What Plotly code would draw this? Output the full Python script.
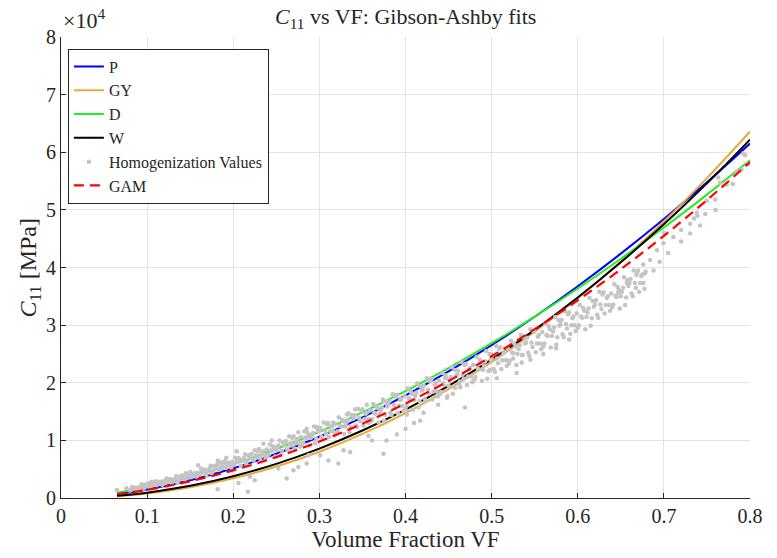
import plotly.graph_objects as go

# ---------------- data (C11 in units of 1e4 MPa) ----------------
vf_fit = [0.065, 0.10, 0.15, 0.20, 0.25, 0.30, 0.35, 0.40, 0.45, 0.50,
          0.55, 0.60, 0.65, 0.70, 0.75, 0.80]
c_P = [0.069, 0.149, 0.307, 0.515, 0.767, 1.063, 1.400, 1.779, 2.196, 2.652,
       3.145, 3.675, 4.241, 4.843, 5.479, 6.150]
c_GY = [0.032, 0.079, 0.186, 0.341, 0.546, 0.803, 1.112, 1.474, 1.889, 2.360,
        2.885, 3.466, 4.104, 4.799, 5.551, 6.360]
c_D = [0.091, 0.186, 0.364, 0.587, 0.850, 1.150, 1.486, 1.855, 2.254, 2.686,
       3.146, 3.635, 4.152, 4.695, 5.265, 5.860]
c_W = [0.039, 0.093, 0.211, 0.378, 0.593, 0.858, 1.171, 1.534, 1.945, 2.407,
       2.918, 3.479, 4.090, 4.750, 5.460, 6.220]
c_GAM = [0.070, 0.140, 0.290, 0.480, 0.710, 0.980, 1.290, 1.640, 2.030, 2.460,
         2.930, 3.430, 3.970, 4.550, 5.170, 5.830]

# homogenization samples, part A
hom_vf_a = [
    0.080, 0.0825, 0.085, 0.0875, 0.090, 0.0925, 0.095, 0.0975,
    0.100, 0.1025, 0.105, 0.1075, 0.110, 0.1125, 0.115, 0.1175,
    0.120, 0.1225, 0.125, 0.1275, 0.130, 0.1325, 0.135, 0.1375,
    0.140, 0.1425, 0.145, 0.1475, 0.150, 0.1525, 0.155, 0.1575,
    0.160, 0.1625, 0.165, 0.1675, 0.170, 0.1725, 0.175, 0.1775,
    0.180, 0.1825, 0.185, 0.1875, 0.190, 0.1925, 0.195, 0.1975,
    0.200, 0.2025, 0.205, 0.2075, 0.210, 0.2125, 0.215, 0.2175,
    0.220, 0.2225, 0.225, 0.2275, 0.230, 0.2325, 0.235, 0.2375,
    0.240, 0.2425, 0.245, 0.2475, 0.250, 0.2525, 0.255, 0.2575,
    0.260, 0.2625, 0.265, 0.2675, 0.270, 0.2725, 0.275, 0.2775,
    0.280, 0.2825, 0.285, 0.2875, 0.290, 0.2925, 0.295, 0.2975,
    0.300, 0.3025, 0.305, 0.3075, 0.310, 0.3125, 0.315, 0.3175,
    0.320, 0.3225, 0.325, 0.3275, 0.330, 0.3325, 0.335, 0.3375,
    0.340, 0.3425, 0.345, 0.3475, 0.350, 0.3525, 0.355, 0.3575,
    0.360, 0.3625, 0.365, 0.3675, 0.370, 0.3725, 0.375, 0.3775,
    0.380, 0.3825, 0.385, 0.3875, 0.390, 0.3925, 0.395, 0.3975,
    0.400, 0.4025, 0.405, 0.4075, 0.410, 0.4125, 0.415, 0.4175,
    0.420, 0.4225, 0.425, 0.4275, 0.430, 0.4325, 0.435, 0.4375,
    0.440, 0.4425, 0.445, 0.4475, 0.450, 0.4525, 0.455, 0.4575,
    0.460, 0.4625, 0.465, 0.4675, 0.470, 0.4725, 0.475, 0.4775,
    0.480, 0.4825, 0.485, 0.4875, 0.490, 0.4925, 0.495, 0.4975,
    0.500, 0.5025, 0.505, 0.5075, 0.510, 0.5125, 0.515, 0.5175,
    0.520, 0.5225, 0.525, 0.5275, 0.530, 0.5325, 0.535, 0.5375,
    0.540, 0.5425, 0.545, 0.5475, 0.550, 0.5525, 0.555, 0.5575,
    0.560, 0.5625, 0.565, 0.5675, 0.570, 0.5725, 0.575, 0.5775,
    0.580, 0.5825, 0.585, 0.5875, 0.590, 0.5925, 0.595, 0.5975,
    0.600, 0.6025, 0.605, 0.6075, 0.610, 0.6125, 0.615, 0.6175,
    0.620, 0.6225, 0.625, 0.6275, 0.630, 0.6325, 0.635, 0.6375,
    0.640, 0.6425, 0.645, 0.6475, 0.650, 0.6525, 0.655, 0.6575,
    0.660, 0.6625, 0.665, 0.6675, 0.670, 0.6725, 0.675, 0.6775,
    # sparse upper end
    0.684, 0.692, 0.6995, 0.711, 0.7305, 0.7305, 0.742, 0.748, 0.750, 0.7596,
    0.7654, 0.773, 0.785, 0.7944, 0.688, 0.695, 0.705, 0.720, 0.678, 0.668,
    0.657, 0.676, 0.700, 0.738, 0.760, 0.780, 0.790, 0.798, 0.720, 0.735,
    0.792, 0.763, 0.739, 0.647, 0.658,
    # scattered points below the band
    0.065, 0.076, 0.182, 0.206, 0.217, 0.225, 0.262, 0.2195, 0.2524, 0.2698,
    0.2756, 0.2853, 0.2872, 0.3008, 0.3105, 0.322, 0.328, 0.3357, 0.357, 0.361,
    0.3744, 0.378, 0.390, 0.400, 0.410, 0.421, 0.438, 0.448, 0.469, 0.4576,
    0.463, 0.487, 0.498, 0.506, 0.5176, 0.529, 0.525, 0.535, 0.545, 0.560,
    0.575, 0.590, 0.417, 0.4015,
    # scattered points above the band
    0.159, 0.182, 0.192, 0.204, 0.235, 0.2447, 0.2756, 0.2853, 0.297, 0.316,
    0.332, 0.3415, 0.355, 0.374, 0.386, 0.4286, 0.446,
]
hom_c_a = [
    0.13, 0.19, 0.16, 0.18, 0.18, 0.20, 0.15, 0.23,
    0.24, 0.20, 0.28, 0.22, 0.29, 0.25, 0.28, 0.23,
    0.25, 0.34, 0.29, 0.32, 0.31, 0.34, 0.27, 0.37,
    0.38, 0.33, 0.43, 0.36, 0.45, 0.39, 0.43, 0.37,
    0.40, 0.51, 0.45, 0.48, 0.47, 0.51, 0.43, 0.55,
    0.55, 0.50, 0.62, 0.53, 0.64, 0.57, 0.61, 0.53,
    0.57, 0.70, 0.63, 0.67, 0.64, 0.70, 0.59, 0.74,
    0.74, 0.67, 0.83, 0.71, 0.85, 0.75, 0.81, 0.70,
    0.73, 0.93, 0.82, 0.88, 0.83, 0.91, 0.75, 0.97,
    0.95, 0.85, 1.07, 0.91, 1.07, 0.95, 1.03, 0.89,
    0.93, 1.16, 1.03, 1.10, 1.04, 1.13, 0.95, 1.20,
    1.17, 1.06, 1.31, 1.12, 1.30, 1.16, 1.25, 1.09,
    1.12, 1.40, 1.24, 1.33, 1.24, 1.35, 1.14, 1.44,
    1.39, 1.26, 1.55, 1.33, 1.54, 1.37, 1.48, 1.30,
    1.33, 1.63, 1.46, 1.56, 1.46, 1.57, 1.34, 1.67,
    1.62, 1.48, 1.80, 1.56, 1.79, 1.60, 1.72, 1.51,
    1.55, 1.90, 1.70, 1.81, 1.70, 1.83, 1.57, 1.94,
    1.88, 1.72, 2.08, 1.81, 2.06, 1.85, 1.99, 1.76,
    1.80, 2.17, 1.96, 2.08, 1.95, 2.10, 1.81, 2.22,
    2.14, 1.97, 2.36, 2.07, 2.33, 2.11, 2.26, 2.01,
    2.05, 2.45, 2.23, 2.35, 2.22, 2.37, 2.07, 2.50,
    2.42, 2.24, 2.64, 2.34, 2.61, 2.39, 2.54, 2.29,
    2.33, 2.73, 2.51, 2.63, 2.50, 2.65, 2.35, 2.78,
    2.70, 2.52, 2.93, 2.62, 2.90, 2.68, 2.83, 2.58,
    2.63, 3.03, 2.81, 2.93, 2.81, 2.96, 2.66, 3.09,
    3.02, 2.84, 3.24, 2.94, 3.22, 3.00, 3.15, 2.90,
    2.95, 3.35, 3.13, 3.25, 3.14, 3.29, 2.99, 3.42,
    3.36, 3.18, 3.58, 3.28, 3.57, 3.35, 3.50, 3.25,
    3.31, 3.71, 3.49, 3.61, 3.50, 3.65, 3.35, 3.78,
    3.73, 3.55, 3.95, 3.65, 3.95, 3.73, 3.88, 3.63,
    # sparse upper end
    4.13, 4.30, 4.42, 4.53, 4.76, 4.59, 4.73, 4.93, 5.16, 5.18,
    5.47, 5.44, 5.67, 5.95, 3.95, 4.10, 4.25, 4.45, 3.90, 3.87,
    3.73, 4.05, 4.60, 4.95, 5.00, 5.45, 5.70, 5.80, 4.65, 4.85,
    5.98, 5.56, 4.90, 3.56, 3.76,
    # scattered points below the band
    0.14, 0.17, 0.15, 0.26, 0.11, 0.31, 0.34, 0.37, 0.51, 0.48,
    0.54, 0.60, 0.74, 0.74, 0.65, 0.60, 0.83, 0.80, 1.08, 1.00,
    0.77, 1.00, 1.10, 1.20, 1.30, 1.48, 1.62, 1.74, 1.57, 1.91,
    2.02, 2.34, 2.22, 2.08, 2.39, 2.17, 2.42, 2.48, 2.40, 2.50,
    2.60, 2.75, 1.34, 1.45,
    # scattered points above the band
    0.57, 0.65, 0.70, 0.81, 0.94, 1.00, 1.14, 1.20, 1.23, 1.31,
    1.45, 1.54, 1.62, 1.68, 1.79, 2.02, 2.08,
]

# homogenization samples, part B (interleaved with part A in the dense band)
hom_vf_b = [
    0.08125, 0.08375, 0.08625, 0.08875, 0.09125, 0.09375, 0.09625, 0.09875,
    0.10125, 0.10375, 0.10625, 0.10875, 0.11125, 0.11375, 0.11625, 0.11875,
    0.12125, 0.12375, 0.12625, 0.12875, 0.13125, 0.13375, 0.13625, 0.13875,
    0.14125, 0.14375, 0.14625, 0.14875, 0.15125, 0.15375, 0.15625, 0.15875,
    0.16125, 0.16375, 0.16625, 0.16875, 0.17125, 0.17375, 0.17625, 0.17875,
    0.18125, 0.18375, 0.18625, 0.18875, 0.19125, 0.19375, 0.19625, 0.19875,
    0.20125, 0.20375, 0.20625, 0.20875, 0.21125, 0.21375, 0.21625, 0.21875,
    0.22125, 0.22375, 0.22625, 0.22875, 0.23125, 0.23375, 0.23625, 0.23875,
    0.24125, 0.24375, 0.24625, 0.24875, 0.25125, 0.25375, 0.25625, 0.25875,
    0.26125, 0.26375, 0.26625, 0.26875, 0.27125, 0.27375, 0.27625, 0.27875,
    0.28125, 0.28375, 0.28625, 0.28875, 0.29125, 0.29375, 0.29625, 0.29875,
    0.30125, 0.30375, 0.30625, 0.30875, 0.31125, 0.31375, 0.31625, 0.31875,
    0.32125, 0.32375, 0.32625, 0.32875, 0.33125, 0.33375, 0.33625, 0.33875,
    0.34125, 0.34375, 0.34625, 0.34875, 0.35125, 0.35375, 0.35625, 0.35875,
    0.36125, 0.36375, 0.36625, 0.36875, 0.37125, 0.37375, 0.37625, 0.37875,
    0.38125, 0.38375, 0.38625, 0.38875, 0.39125, 0.39375, 0.39625, 0.39875,
    0.40125, 0.40375, 0.40625, 0.40875, 0.41125, 0.41375, 0.41625, 0.41875,
    0.42125, 0.42375, 0.42625, 0.42875, 0.43125, 0.43375, 0.43625, 0.43875,
    0.44125, 0.44375, 0.44625, 0.44875, 0.45125, 0.45375, 0.45625, 0.45875,
    0.46125, 0.46375, 0.46625, 0.46875, 0.47125, 0.47375, 0.47625, 0.47875,
    0.48125, 0.48375, 0.48625, 0.48875, 0.49125, 0.49375, 0.49625, 0.49875,
    0.50125, 0.50375, 0.50625, 0.50875, 0.51125, 0.51375, 0.51625, 0.51875,
    0.52125, 0.52375, 0.52625, 0.52875, 0.53125, 0.53375, 0.53625, 0.53875,
    0.54125, 0.54375, 0.54625, 0.54875, 0.55125, 0.55375, 0.55625, 0.55875,
    0.56125, 0.56375, 0.56625, 0.56875, 0.57125, 0.57375, 0.57625, 0.57875,
    0.58125, 0.58375, 0.58625, 0.58875, 0.59125, 0.59375, 0.59625, 0.59875,
    0.60125, 0.60375, 0.60625, 0.60875, 0.61125, 0.61375, 0.61625, 0.61875,
    0.62125, 0.62375, 0.62625, 0.62875, 0.63125, 0.63375, 0.63625, 0.63875,
    0.64125, 0.64375, 0.64625, 0.64875, 0.65125, 0.65375, 0.65625, 0.65875,
    0.66125, 0.66375, 0.66625, 0.66875, 0.67125, 0.67375, 0.67625, 0.67875,
]
hom_c_b = [
    0.14, 0.16, 0.18, 0.12, 0.19, 0.24, 0.17, 0.21,
    0.25, 0.19, 0.24, 0.27, 0.22, 0.27, 0.25, 0.29,
    0.26, 0.30, 0.33, 0.25, 0.32, 0.38, 0.30, 0.35,
    0.39, 0.32, 0.38, 0.42, 0.36, 0.42, 0.39, 0.44,
    0.42, 0.46, 0.49, 0.40, 0.49, 0.56, 0.47, 0.52,
    0.58, 0.49, 0.55, 0.61, 0.52, 0.61, 0.57, 0.63,
    0.58, 0.64, 0.69, 0.56, 0.67, 0.76, 0.64, 0.71,
    0.77, 0.65, 0.74, 0.81, 0.68, 0.80, 0.75, 0.84,
    0.76, 0.83, 0.90, 0.72, 0.87, 1.00, 0.82, 0.92,
    0.99, 0.83, 0.95, 1.04, 0.86, 1.02, 0.95, 1.06,
    0.96, 1.05, 1.13, 0.91, 1.09, 1.24, 1.03, 1.15,
    1.22, 1.03, 1.17, 1.28, 1.06, 1.24, 1.16, 1.29,
    1.16, 1.26, 1.36, 1.11, 1.30, 1.47, 1.23, 1.37,
    1.44, 1.23, 1.39, 1.51, 1.26, 1.46, 1.37, 1.52,
    1.37, 1.48, 1.59, 1.31, 1.52, 1.71, 1.44, 1.59,
    1.68, 1.44, 1.62, 1.76, 1.47, 1.70, 1.60, 1.77,
    1.60, 1.73, 1.85, 1.53, 1.77, 1.99, 1.68, 1.86,
    1.95, 1.68, 1.88, 2.04, 1.71, 1.97, 1.85, 2.04,
    1.84, 1.99, 2.13, 1.77, 2.03, 2.27, 1.93, 2.12,
    2.21, 1.92, 2.14, 2.31, 1.96, 2.23, 2.11, 2.31,
    2.10, 2.25, 2.40, 2.03, 2.30, 2.55, 2.20, 2.40,
    2.49, 2.19, 2.42, 2.59, 2.24, 2.51, 2.39, 2.59,
    2.38, 2.53, 2.68, 2.31, 2.58, 2.83, 2.48, 2.68,
    2.78, 2.47, 2.70, 2.88, 2.53, 2.80, 2.68, 2.88,
    2.68, 2.83, 2.98, 2.61, 2.89, 3.14, 2.79, 2.99,
    3.09, 2.79, 3.02, 3.19, 2.85, 3.12, 3.00, 3.20,
    3.00, 3.15, 3.30, 2.93, 3.22, 3.47, 3.12, 3.32,
    3.43, 3.13, 3.36, 3.53, 3.20, 3.47, 3.35, 3.55,
    3.36, 3.51, 3.66, 3.29, 3.58, 3.83, 3.48, 3.68,
    3.80, 3.50, 3.73, 3.90, 3.58, 3.85, 3.73, 3.93,
]

hom_vf = hom_vf_a + hom_vf_b
hom_c = hom_c_a + hom_c_b

x_ticks = [0, 0.1, 0.2, 0.3, 0.4, 0.5, 0.6, 0.7, 0.8]
x_tick_text = ["0", "0.1", "0.2", "0.3", "0.4", "0.5", "0.6", "0.7", "0.8"]
y_ticks = [0, 1, 2, 3, 4, 5, 6, 7, 8]

# ---------------- figure ----------------
FONT = "Liberation Serif, DejaVu Serif, serif"
AX = "#262626"

fig = go.Figure()

fits = [("P", c_P, "#0000ff"), ("GY", c_GY, "#e8a83a"),
        ("D", c_D, "#22ee22"), ("W", c_W, "#000000")]
for name, ys, col in fits:
    fig.add_trace(go.Scatter(x=vf_fit, y=ys, mode="lines", name=name,
                             line=dict(color=col, width=2, shape="spline")))

fig.add_trace(go.Scatter(x=hom_vf, y=hom_c, mode="markers",
                         name="Homogenization Values",
                         marker=dict(color="#c4c4c4", size=4.5, line=dict(width=0))))

fig.add_trace(go.Scatter(x=vf_fit, y=c_GAM, mode="lines", name="GAM",
                         line=dict(color="#ff0000", width=2.2, dash="10px,6px",
                                   shape="spline")))

fig.update_layout(
    width=777, height=558,
    margin=dict(l=61, r=27, t=37, b=53),
    paper_bgcolor="white", plot_bgcolor="white",
    font=dict(family=FONT, color=AX, size=19),
    showlegend=True,
    legend=dict(x=0.01, y=0.975, xanchor="left", yanchor="top",
                bgcolor="white", bordercolor=AX, borderwidth=1,
                font=dict(family=FONT, size=16, color=AX),
                tracegroupgap=0),
    annotations=[
        dict(text="<i>C</i><sub>11</sub> vs VF: Gibson-Ashby fits",
             xref="paper", yref="paper", x=0.5, y=1.0, xanchor="center",
             yanchor="bottom", yshift=3, showarrow=False,
             font=dict(family=FONT, size=22, color=AX)),
        dict(text="×10<sup>4</sup>", xref="paper", yref="paper", x=0.0,
             y=1.0, xanchor="left", yanchor="bottom", xshift=0, yshift=2,
             showarrow=False, font=dict(family=FONT, size=22, color=AX)),
        dict(text="<i>C</i><sub>11</sub> [MPa]", xref="paper", yref="paper",
             x=0, y=0.5, xanchor="center", yanchor="middle", xshift=-32,
             textangle=-90, showarrow=False,
             font=dict(family=FONT, size=24, color=AX)),
    ],
)

fig.update_xaxes(range=[0, 0.8], tickvals=x_ticks, ticktext=x_tick_text,
                 ticks="inside", ticklen=5, tickcolor=AX,
                 showline=True, linecolor=AX, linewidth=1, mirror=False,
                 showgrid=True, gridcolor="#e3e3e3", gridwidth=1, zeroline=False,
                 tickfont=dict(family=FONT, size=20, color=AX),
                 title=dict(text="Volume Fraction VF", standoff=3,
                            font=dict(family=FONT, size=23, color=AX)))
fig.update_yaxes(range=[0, 8], tickvals=y_ticks,
                 ticks="inside", ticklen=5, tickcolor=AX,
                 showline=True, linecolor=AX, linewidth=1, mirror=False,
                 showgrid=True, gridcolor="#e3e3e3", gridwidth=1, zeroline=False,
                 tickfont=dict(family=FONT, size=20, color=AX))

fig.write_html("out.html")
